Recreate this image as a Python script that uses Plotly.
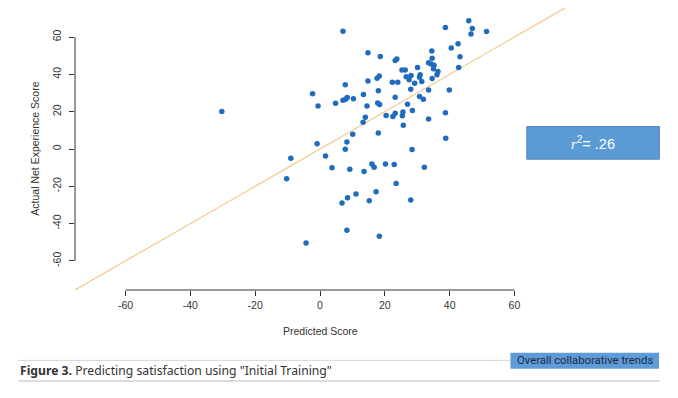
import plotly.graph_objects as go

# Data
predicted = [-30.3, 7.1, 14.8, 18.6, 7.8, 14.8, 17.6, 18.3, -2.3, -0.6,
             4.8, 7.1, 7.9, 8.4, 10.3, 13.4, 14.5, 18.0, 17.8, 18.4,
             14.0, 13.3, 38.7, 45.9, 47.0, 46.6, 51.4, 42.6, 40.5, 43.2,
             42.8, 34.5, 34.6, 33.5, 34.3, 35.2, 35.0, 36.4, 36.1, 34.6,
             30.1, 23.7, 23.2, 25.3, 26.3, 26.6, 28.1, 30.9, 30.7, 27.5,
             22.3, 24.0, 29.2, 31.4, 28.0, 33.5, 39.9, 23.2, 30.7, 31.9,
             27.0, 28.5, 20.4, 22.5, 23.2, 25.6, 25.4, 38.7, 33.5, 25.7,
             10.1, 18.0, 8.3, -0.9, 7.8, -9.0, 1.7, -10.3, 3.7, 9.2,
             13.6, 16.0, 16.7, 11.1, 8.5, 6.8, 15.2, 17.3, 8.3, -4.3,
             18.3, 38.8, 28.4, 20.2, 22.9, 32.2, 23.5, 28.0]
actual = [20.1, 63.2, 51.6, 49.6, 34.4, 36.5, 38.0, 39.2, 29.6, 23.1,
          24.5, 26.1, 26.7, 27.6, 27.0, 29.2, 23.1, 31.2, 24.6, 23.8,
          17.0, 14.4, 65.2, 68.7, 64.6, 61.6, 63.0, 56.4, 54.1, 49.4,
          43.7, 52.6, 48.7, 46.3, 45.6, 44.9, 43.0, 41.5, 39.8, 37.8,
          43.7, 48.2, 47.4, 42.3, 42.3, 38.8, 39.4, 39.8, 38.5, 37.1,
          35.8, 35.8, 35.3, 36.2, 32.1, 31.7, 31.7, 27.8, 28.1, 26.7,
          24.0, 20.6, 17.9, 17.4, 19.2, 19.9, 17.8, 19.4, 16.1, 12.7,
          7.9, 8.6, 3.8, 2.8, -0.1, -4.9, -3.7, -15.9, -10.1, -10.8,
          -12.1, -8.0, -9.8, -24.1, -26.2, -28.9, -27.7, -22.9, -43.6, -50.4,
          -46.8, 5.8, -0.3, -8.0, -8.3, -9.8, -18.5, -27.3]

fit_x = [-76, 76]
fit_slope = 1.0
fit_intercept = 0.0
fit_y = [fit_slope * v + fit_intercept for v in fit_x]

tick_vals = [-60, -40, -20, 0, 20, 40, 60]
tick_text = ["-60", "-40", "-20", "0", "20", "40", "60"]

r2_label = "<span style='font-family:Liberation Serif, serif'><i>r</i></span><sup>2</sup>= .26"
caption_bold = "Figure 3."
caption_rest = ' Predicting satisfaction using "Initial Training"'
tag_label = "Overall collaborative trends"

# Layout (pixels, in page coordinates; the page body adds an 8px offset)
OFF = 8
W, H = 678 - OFF, 398 - OFF
L, R, T, B = 74.7 - OFF, 564.9 - OFF, 8.2 - OFF, 290.0 - OFF
RANGE = [-75.6, 75.6]

def px(xp):
    return (xp - OFF - L) / (R - L)

def py(yp):
    return (B - (yp - OFF)) / (B - T)

AX_FONT = dict(family="Liberation Sans, Arial, sans-serif", size=10.5, color="#333333")

fig = go.Figure()

fig.add_trace(go.Scatter(
    x=fit_x, y=fit_y, mode="lines",
    line=dict(color="#f3c98e", width=1.2),
    hoverinfo="skip", showlegend=False, cliponaxis=True,
))

fig.add_trace(go.Scatter(
    x=predicted, y=actual, mode="markers",
    marker=dict(color="#1f6cbf", size=5.5, line=dict(width=0)),
    showlegend=False,
))

shapes = [
    dict(type="line", xref="x", yref="paper", x0=-60, x1=60, y0=0, y1=0,
         line=dict(color="#333333", width=1)),
    dict(type="line", xref="paper", yref="y", x0=0, x1=0, y0=-60, y1=60,
         line=dict(color="#333333", width=1)),
    dict(type="rect", xref="paper", yref="paper",
         x0=px(526.7), x1=px(659.3), y0=py(159.3), y1=py(126.7),
         fillcolor="#5b9bd5", line=dict(color="#4f86bd", width=1)),
    dict(type="line", xref="paper", yref="paper",
         x0=px(18), x1=px(510), y0=py(360.3), y1=py(360.3),
         line=dict(color="#d4d4d4", width=1)),
    dict(type="line", xref="paper", yref="paper",
         x0=px(18), x1=px(660), y0=py(381), y1=py(381),
         line=dict(color="#dcdcdc", width=2)),
    dict(type="rect", xref="paper", yref="paper",
         x0=px(510.3), x1=px(659), y0=py(368.7), y1=py(352.7),
         fillcolor="#5f9bd6", line=dict(width=0)),
]

annotations = [
    dict(text="Predicted Score", xref="paper", yref="paper",
         x=px(320), y=py(330.5), showarrow=False, font=AX_FONT,
         xanchor="center", yanchor="middle"),
    dict(text="Actual Net Experience Score", xref="paper", yref="paper",
         x=px(35), y=py(148.5), showarrow=False, font=AX_FONT, textangle=-90,
         xanchor="center", yanchor="middle"),
    dict(text=r2_label, xref="paper", yref="paper",
         x=px(593), y=py(143.5), showarrow=False,
         font=dict(family="Liberation Sans, Arial, sans-serif", size=14.5, color="#ffffff"),
         xanchor="center", yanchor="middle"),
    dict(text="<b>" + caption_bold + "</b>" + caption_rest, xref="paper", yref="paper",
         x=px(18), y=py(370.5), showarrow=False,
         font=dict(family="Noto Sans, sans-serif", size=12.2, color="#333333"),
         xanchor="left", yanchor="middle"),
    dict(text=tag_label, xref="paper", yref="paper",
         x=px(584.6), y=py(360.7), showarrow=False,
         font=dict(family="Roboto, sans-serif", size=11.3, color="#1b2a48"),
         xanchor="center", yanchor="middle"),
]

fig.update_layout(
    width=W, height=H,
    margin=dict(l=L, r=W - R, t=T, b=H - B, pad=0),
    paper_bgcolor="white", plot_bgcolor="white",
    shapes=shapes, annotations=annotations,
    xaxis=dict(range=RANGE, showgrid=False, zeroline=False, showline=False,
               tickmode="array", tickvals=tick_vals, ticktext=tick_text,
               ticks="outside", ticklen=5, tickcolor="#333333", tickwidth=1,
               tickfont=AX_FONT, fixedrange=True),
    yaxis=dict(range=RANGE, showgrid=False, zeroline=False, showline=False,
               tickmode="array", tickvals=tick_vals, ticktext=tick_text,
               ticks="outside", ticklen=5, tickcolor="#333333", tickwidth=1,
               tickfont=AX_FONT, tickangle=-90, ticklabelstandoff=4,
               fixedrange=True),
)

fig.write_html("out.html", config={"displayModeBar": False})
